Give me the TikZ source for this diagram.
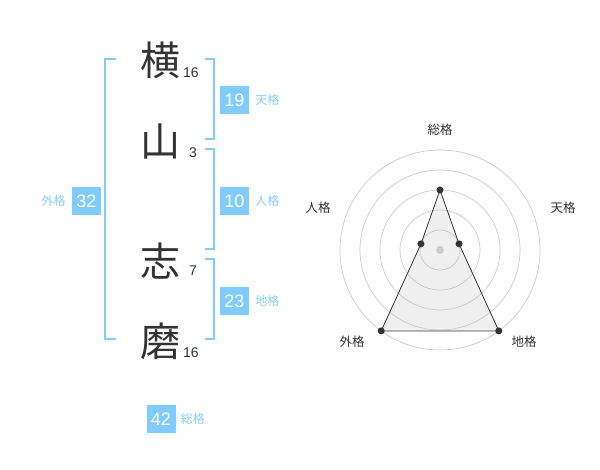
\documentclass[tikz,border=0pt]{standalone}
\usepackage{fontspec}
\setmainfont{Liberation Sans}
\newfontfamily\jp{Noto Sans CJK JP}
\usetikzlibrary{positioning}
\definecolor{kaku}{HTML}{80CCFF}
\definecolor{kakutext}{HTML}{88CCF5}
\definecolor{ink}{HTML}{333333}
\tikzset{
  kanji/.style={text=ink, font=\jp\fontsize{40}{40}\selectfont, inner sep=0pt},
  strokes/.style={text=ink, font=\fontsize{14}{14}\selectfont, inner sep=0pt},
  score/.style={fill=kaku, text=white, font=\fontsize{18}{18}\selectfont, minimum width=29pt, minimum height=28pt, inner sep=0pt},
  kakuname/.style={text=kakutext, font=\jp\fontsize{12}{12}\selectfont, inner sep=0pt},
  bracket/.style={draw=kaku, line width=2pt},
  ring/.style={draw=black!20, line width=0.7pt},
  axisname/.style={text=ink, font=\jp\fontsize{12.5}{12.5}\selectfont, inner sep=0pt},
  dot/.style={circle, fill=ink, inner sep=0pt, minimum size=7pt},
}

\begin{document}
\begin{tikzpicture}[x=1pt, y=-1pt]
    \useasboundingbox (0,0) rectangle (600,470);
    % name
    \node(c1)[kanji] at (160,60) {横};
    \node(c2)[kanji] at (160,141) {山};
    \node(c3)[kanji] at (160,261) {志};
    \node(c4)[kanji] at (160,341) {磨};
    \node(n1)[strokes] at (191,73) {16};
    \node(n2)[strokes] at (193,153) {3};
    \node(n3)[strokes] at (193,271) {7};
    \node(n4)[strokes] at (191,353) {16};
    % brackets
    \coordinate(ga1) at (116,59);
    \coordinate(ga2) at (105,59);
    \coordinate(ga3) at (105,339);
    \coordinate(ga4) at (116,339);
    \draw[bracket] (ga1) -- (ga2) -- (ga3) -- (ga4);
    \coordinate(te1) at (205,59);
    \coordinate(te2) at (214,59);
    \coordinate(te3) at (214,139);
    \coordinate(te4) at (205,139);
    \draw[bracket] (te1) -- (te2) -- (te3) -- (te4);
    \coordinate(ji1) at (205,149);
    \coordinate(ji2) at (214,149);
    \coordinate(ji3) at (214,249);
    \coordinate(ji4) at (205,249);
    \draw[bracket] (ji1) -- (ji2) -- (ji3) -- (ji4);
    \coordinate(ch1) at (205,259);
    \coordinate(ch2) at (214,259);
    \coordinate(ch3) at (214,339);
    \coordinate(ch4) at (205,339);
    \draw[bracket] (ch1) -- (ch2) -- (ch3) -- (ch4);
    % scores
    \node(ten)[score] at (234.5,100) {19};
    \node(tenL)[kakuname, right=6pt of ten] {天格};
    \node(jin)[score] at (234.5,201) {10};
    \node(jinL)[kakuname, right=6pt of jin] {人格};
    \node(chi)[score] at (234.5,301) {23};
    \node(chiL)[kakuname, right=6pt of chi] {地格};
    \node(gai)[score] at (86.5,201) {32};
    \node(gaiL)[kakuname, left=6pt of gai] {外格};
    \node(sou)[score] at (161,419) {42};
    \node(souL)[kakuname, right=5pt of sou] {総格};
    % radar
    \begin{scope}[shift={(440,250)}, y=1pt]
        \coordinate(pS) at (90:60);
        \coordinate(pT) at (18:20);
        \coordinate(pC) at (-54:100);
        \coordinate(pG) at (-126:100);
        \coordinate(pJ) at (162:20);
        \fill[black!6] (pS) -- (pT) -- (pC) -- (pG) -- (pJ) -- cycle;
        \foreach \r in {20,40,60,80,100}
            \draw[ring] (0,0) circle (\r pt);
        \node(hub)[circle, fill=black!20, inner sep=0pt, minimum size=8pt] at (0,0) {};
        \draw[ink, line width=0.8pt] (pS) -- (pT) -- (pC) -- (pG) -- (pJ) -- cycle;
        \node(dS)[dot] at (pS) {};
        \node(dT)[dot] at (pT) {};
        \node(dC)[dot] at (pC) {};
        \node(dG)[dot] at (pG) {};
        \node(dJ)[dot] at (pJ) {};
        \node(aS)[axisname] at (0,120) {総格};
        \node(aT)[axisname] at (123,42) {天格};
        \node(aJ)[axisname] at (-122,42) {人格};
        \node(aG)[axisname] at (-88,-92) {外格};
        \node(aC)[axisname] at (84,-92) {地格};
    \end{scope}
\end{tikzpicture}
\end{document}
